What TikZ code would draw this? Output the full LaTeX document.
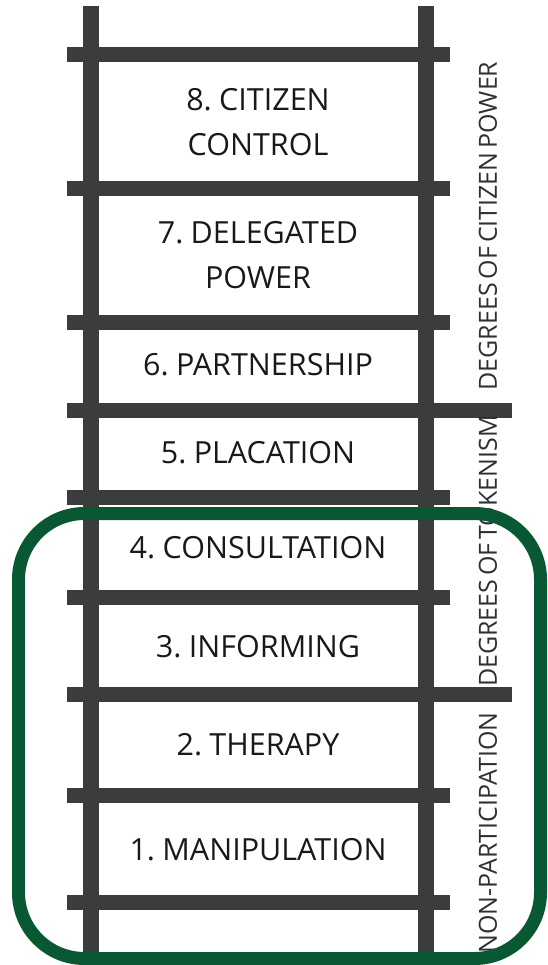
\documentclass[tikz,border=0pt]{standalone}
\usepackage{fontspec}
\setmainfont[WordSpace=0.6]{Open Sans}
\usepackage{xcolor}
\usepackage{tikz}
\usetikzlibrary{positioning}

\definecolor{railgray}{RGB}{60,60,60}
\definecolor{boxgreen}{RGB}{8,88,52}
\definecolor{inkblack}{RGB}{25,25,25}

\tikzset{
  rung/.style={text=inkblack, font=\fontsize{30.5}{45}\selectfont, align=center},
  side/.style={text=railgray!80!black, font=\fontsize{25}{25}\selectfont, rotate=90}
}

\begin{document}
\begin{tikzpicture}[x=1pt, y=-1pt]
\useasboundingbox (0,0) rectangle (547,965);

% rails
\fill [railgray] (83,6) rectangle (99,955);
\fill [railgray] (418,6) rectangle (434,955);

% rungs
\foreach \y in {55,189,322,497,597,795,902}
   \fill [railgray] (67,\y-7.5) rectangle (450,\y+7.5);
\foreach \y in {410,694}
   \fill [railgray] (67,\y-7.5) rectangle (512,\y+7.5);

% steps
\node [rung] (step8) at (258,122) {8. CITIZEN\\CONTROL};
\node [rung] (step7) at (258,255) {7. DELEGATED\\POWER};
\node [rung] (step6) at (258,365) {6. PARTNERSHIP};
\node [rung] (step5) at (258,453) {5. PLACATION};
\node [rung] (step4) at (258,548) {4. CONSULTATION};
\node [rung] (step3) at (258,647) {3. INFORMING};
\node [rung] (step2) at (258,745) {2. THERAPY};
\node [rung] (step1) at (258,850) {1. MANIPULATION};

% groups
\node [side] (power) at (488,226) {DEGREES OF CITIZEN POWER};
\node [side] (token) at (488,551) {DEGREES OF TOKENISM};
\node [side] (nonpart) at (488,833) {NON-PARTICIPATION};

% highlight
\draw [boxgreen, line width=13pt, rounded corners=66pt] (18.5,513.5) rectangle (540.5,958.5);

\end{tikzpicture}
\end{document}
